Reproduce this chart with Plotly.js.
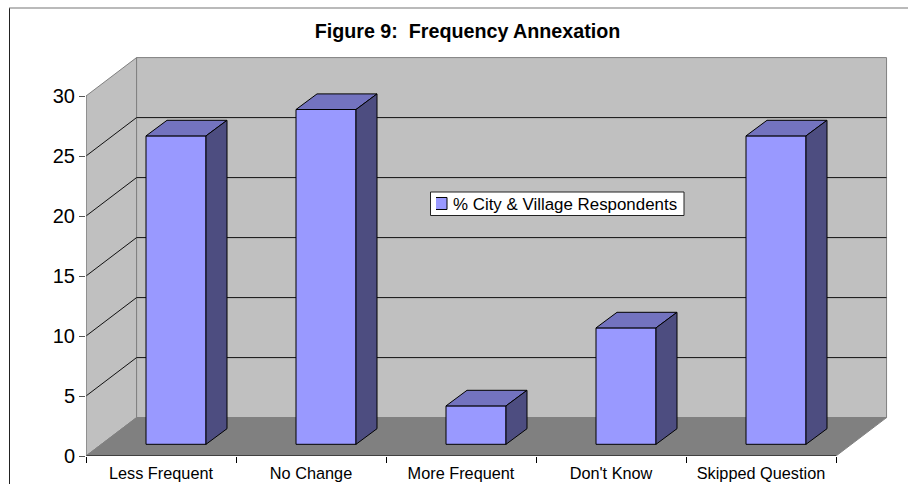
<!DOCTYPE html>
<html>
<head>
<meta charset="utf-8">
<script src="https://cdn.plot.ly/plotly-3.0.1.min.js"></script>
<style>html,body{margin:0;padding:0;background:#fff}#chart{width:908px;height:484px}</style>
</head>
<body>
<div id="chart"></div>
<script>
const categories = ["Less Frequent", "No Change", "More Frequent", "Don't Know", "Skipped Question"];
const values = [25.7, 27.9, 3.2, 9.7, 25.7];
const yTicks = [0, 5, 10, 15, 20, 25, 30];
const seriesName = "% City & Village Respondents";
const titleText = "<b>Figure 9:\u00a0 Frequency Annexation</b>";

const FONT = "Liberation Sans, Arial, sans-serif";
const wallDX = 0.337, wallDY = 3.2;      // depth of the walls in axis units
const barDX = 0.14, barDY = 1.3;         // depth of a bar
const barShiftX = 0.1, barBase = 0.975;  // where a bar's front stands on the floor
const barW = 0.4;
const xL = -0.5, xR = 4.5, yMax = 30;

const poly = pts => "M" + pts.map(p => p[0] + " " + p[1]).join(" L") + " Z";
const wallLine = {color: "#808080", width: 1};
const shapes = [
  {type: "path", layer: "below", xref: "x", yref: "y", fillcolor: "#C0C0C0", line: wallLine,
   path: poly([[xL + wallDX, wallDY], [xR + wallDX, wallDY], [xR + wallDX, yMax + wallDY], [xL + wallDX, yMax + wallDY]])},
  {type: "path", layer: "below", xref: "x", yref: "y", fillcolor: "#C0C0C0", line: wallLine,
   path: poly([[xL, 0], [xL + wallDX, wallDY], [xL + wallDX, yMax + wallDY], [xL, yMax]])},
  {type: "path", layer: "below", xref: "x", yref: "y", fillcolor: "#808080", line: wallLine,
   path: poly([[xL, 0], [xR, 0], [xR + wallDX, wallDY], [xL + wallDX, wallDY]])}
];
yTicks.filter(t => t > 0 && t < yMax).forEach(t => {
  shapes.push({type: "path", layer: "below", xref: "x", yref: "y", line: {color: "#111", width: 1},
    path: `M${xL} ${t} L${xL + wallDX} ${t + wallDY} L${xR + wallDX} ${t + wallDY}`});
});
// chart frame: left and top rules only
const plotW = 804, plotH = 400, ml = 86, mt = 56;
const px = v => (v - ml) / plotW, py = v => 1 - (v - mt) / plotH;
shapes.push({type: "line", xref: "paper", yref: "paper", x0: px(9.5), x1: px(9.5), y0: py(8), y1: py(484), line: {color: "#222", width: 1}});
shapes.push({type: "line", xref: "paper", yref: "paper", x0: px(9), x1: px(908), y0: py(8), y1: py(8), line: {color: "#777", width: 1.2}});
// legend box
shapes.push({type: "rect", xref: "paper", yref: "paper", x0: px(430.5), x1: px(684), y0: py(192), y1: py(215.5), fillcolor: "#fff", line: {color: "#222", width: 1}});

const noHover = {hoverinfo: "skip", showlegend: false};
const traces = [];
// front faces
traces.push({
  type: "bar", name: seriesName, x: categories.map((c, i) => i + barShiftX),
  base: values.map(() => barBase), y: values, width: barW,
  marker: {color: "#9999FF", line: {color: "#000", width: 1}},
  hovertext: categories, hoverinfo: "text+y", textposition: "none", showlegend: true
});
// top and side faces
values.forEach((v, i) => {
  const x0 = i + barShiftX - barW / 2, x1 = x0 + barW, b = barBase, t = barBase + v;
  const face = (pts, color) => traces.push(Object.assign({
    type: "scatter", mode: "lines", x: pts.map(p => p[0]), y: pts.map(p => p[1]),
    fill: "toself", fillcolor: color, line: {color: "#000", width: 1}
  }, noHover));
  face([[x0, t], [x1, t], [x1 + barDX, t + barDY], [x0 + barDX, t + barDY], [x0, t]], "#7373BF");
  face([[x1, b], [x1 + barDX, b + barDY], [x1 + barDX, t + barDY], [x1, t], [x1, b]], "#4D4D80");
});
// front edges of the box: bottom axis and left edge
traces.push(Object.assign({type: "scatter", mode: "lines", cliponaxis: false, x: [xL, xR], y: [0, 0], line: {color: "#000", width: 1}}, noHover));
traces.push(Object.assign({type: "scatter", mode: "lines", cliponaxis: false, x: [xL, xL], y: [0, yMax], line: {color: "#808080", width: 1}}, noHover));

const layout = {
  width: 908, height: 484, autosize: false,
  margin: {l: ml, r: 908 - ml - plotW, t: mt, b: 484 - mt - plotH, pad: 0},
  paper_bgcolor: "#fff", plot_bgcolor: "rgba(0,0,0,0)",
  font: {family: FONT, color: "#000"},
  title: {text: titleText, font: {family: FONT, size: 19.7, color: "#000"}, x: 467.5 / 908, xanchor: "center", xref: "container", y: 1 - 31 / 484, yref: "container", yanchor: "middle"},
  barmode: "overlay",
  xaxis: {
    type: "linear", range: [xL, xL + plotW / 150], showgrid: false, zeroline: false, showline: false,
    tickmode: "array", tickvals: categories.map((c, i) => i), ticktext: categories,
    ticks: "", tickfont: {family: FONT, size: 16.3, color: "#000"}, ticklen: 6, ticklabelstandoff: 6,
    minor: {tickmode: "array", tickvals: categories.map((c, i) => i - 0.5).concat([xR]), ticks: "outside", ticklen: 6, tickcolor: "#000", tickwidth: 1, showgrid: false}
  },
  yaxis: {
    range: [0, plotH / 12], showgrid: false, zeroline: false, showline: false,
    tickmode: "array", tickvals: yTicks, ticks: "outside", ticklen: 6, tickcolor: "#555", tickwidth: 1,
    tickfont: {family: FONT, size: 20, color: "#000"}
  },
  legend: {
    x: px(436), xanchor: "left", y: py(203.5), yanchor: "middle",
    bgcolor: "rgba(0,0,0,0)", borderwidth: 0,
    font: {family: FONT, size: 16.9, color: "#000"},
    itemwidth: 30, indentation: -15, itemclick: false, itemdoubleclick: false
  },
  shapes: shapes,
  showlegend: true
};
Plotly.newPlot("chart", traces, layout, {displayModeBar: false, responsive: false}).then(gd => {
  // tighten the gap between the legend swatch and its label
  gd.querySelectorAll(".legend text.legendtext").forEach(t => {
    t.setAttribute("x", parseFloat(t.getAttribute("x")) - 8);
  });
});
</script>
</body>
</html>
